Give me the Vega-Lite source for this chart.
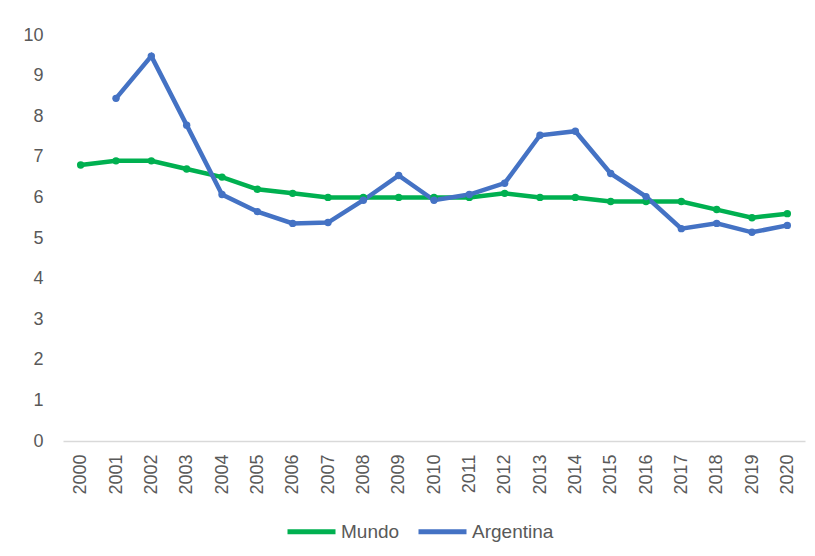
{
  "$schema": "https://vega.github.io/schema/vega-lite/v6.json",
  "autosize": "none",
  "width": 742,
  "height": 406,
  "padding": {"left": 63, "top": 35, "right": 10, "bottom": 115},
  "background": "white",
  "config": {
    "view": {"stroke": null},
    "font": "Liberation Sans",
    "axis": {"labelFont": "Liberation Sans", "labelColor": "#595959", "labelFontSize": 18},
    "legend": {"labelFont": "Liberation Sans", "labelColor": "#595959", "labelFontSize": 19}
  },
  "data": {
    "values": [
      {"year": "2000", "series": "Mundo", "value": 6.8},
      {"year": "2001", "series": "Mundo", "value": 6.9},
      {"year": "2002", "series": "Mundo", "value": 6.9},
      {"year": "2003", "series": "Mundo", "value": 6.7},
      {"year": "2004", "series": "Mundo", "value": 6.5},
      {"year": "2005", "series": "Mundo", "value": 6.2},
      {"year": "2006", "series": "Mundo", "value": 6.1},
      {"year": "2007", "series": "Mundo", "value": 6.0},
      {"year": "2008", "series": "Mundo", "value": 6.0},
      {"year": "2009", "series": "Mundo", "value": 6.0},
      {"year": "2010", "series": "Mundo", "value": 6.0},
      {"year": "2011", "series": "Mundo", "value": 6.0},
      {"year": "2012", "series": "Mundo", "value": 6.1},
      {"year": "2013", "series": "Mundo", "value": 6.0},
      {"year": "2014", "series": "Mundo", "value": 6.0},
      {"year": "2015", "series": "Mundo", "value": 5.9},
      {"year": "2016", "series": "Mundo", "value": 5.9},
      {"year": "2017", "series": "Mundo", "value": 5.9},
      {"year": "2018", "series": "Mundo", "value": 5.7},
      {"year": "2019", "series": "Mundo", "value": 5.5},
      {"year": "2020", "series": "Mundo", "value": 5.6},
      {"year": "2001", "series": "Argentina", "value": 8.44},
      {"year": "2002", "series": "Argentina", "value": 9.48},
      {"year": "2003", "series": "Argentina", "value": 7.78},
      {"year": "2004", "series": "Argentina", "value": 6.07},
      {"year": "2005", "series": "Argentina", "value": 5.65},
      {"year": "2006", "series": "Argentina", "value": 5.36},
      {"year": "2007", "series": "Argentina", "value": 5.38},
      {"year": "2008", "series": "Argentina", "value": 5.93},
      {"year": "2009", "series": "Argentina", "value": 6.54},
      {"year": "2010", "series": "Argentina", "value": 5.93},
      {"year": "2011", "series": "Argentina", "value": 6.07},
      {"year": "2012", "series": "Argentina", "value": 6.35},
      {"year": "2013", "series": "Argentina", "value": 7.53},
      {"year": "2014", "series": "Argentina", "value": 7.63},
      {"year": "2015", "series": "Argentina", "value": 6.59},
      {"year": "2016", "series": "Argentina", "value": 6.02},
      {"year": "2017", "series": "Argentina", "value": 5.23},
      {"year": "2018", "series": "Argentina", "value": 5.36},
      {"year": "2019", "series": "Argentina", "value": 5.14},
      {"year": "2020", "series": "Argentina", "value": 5.31}
    ]
  },
  "mark": {"type": "line", "strokeWidth": 4.5, "point": {"filled": true, "size": 55}},
  "encoding": {
    "x": {
      "field": "year", "type": "ordinal", "title": null,
      "scale": {"type": "point", "padding": 0.5},
      "axis": {"labelAngle": -90, "labelPadding": 13, "ticks": false, "domainColor": "#d9d9d9", "domainWidth": 1.3, "grid": false}
    },
    "y": {
      "field": "value", "type": "quantitative", "title": null,
      "scale": {"domain": [0, 10]},
      "axis": {"values": [0,1,2,3,4,5,6,7,8,9,10], "domain": false, "ticks": false, "grid": false, "labelPadding": 20}
    },
    "color": {
      "field": "series", "type": "nominal", "title": null,
      "scale": {"domain": ["Mundo", "Argentina"], "range": ["#00B050", "#4472C4"]},
      "legend": {
        "orient": "none", "legendX": 222, "legendY": 470, "direction": "horizontal",
        "symbolType": "stroke", "symbolSize": 2304, "symbolStrokeWidth": 5,
        "labelOffset": 3, "columnPadding": 8
      }
    },
    "order": {"field": "year"}
  }
}
